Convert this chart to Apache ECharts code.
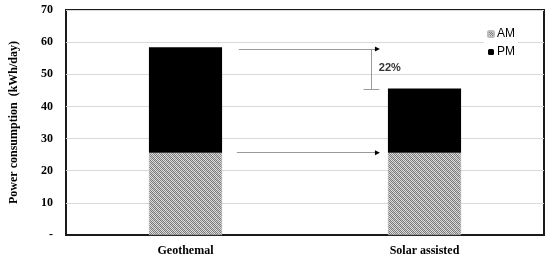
<!DOCTYPE html>
<html><head><meta charset="utf-8">
<script src="https://cdn.jsdelivr.net/npm/echarts@6/dist/echarts.min.js"></script>
<style>html,body{margin:0;padding:0;background:#fff}#c{width:550px;height:259px}</style>
</head><body><div id="c"></div>
<script>
var categories = ['Geothemal', 'Solar assisted'];
var amValues = [25.6, 25.6];
var pmValues = [32.8, 20.0];
var seriesNames = ['AM', 'PM'];
var yTicks = [0, 10, 20, 30, 40, 50, 60, 70];
var reductionLabel = '22%';
var upperArrowValue = 57.9;
var lowerArrowValue = 25.6;
var bracketBottomValue = 45.3;

function makeHatch() {
  var c = document.createElement('canvas');
  c.width = 6; c.height = 6;
  var ctx = c.getContext('2d');
  for (var y = 0; y < 6; y++) {
    for (var x = 0; x < 6; x++) {
      var dark = (x + y) % 2 === 0;
      var band = ((x - y + 12) % 6) < 3;
      var col;
      if (dark) col = band ? '#787878' : '#8c8c8c';
      else col = band ? '#cdcdcd' : '#dedede';
      ctx.fillStyle = col;
      ctx.fillRect(x, y, 1, 1);
    }
  }
  return c;
}
var hatch = { image: makeHatch(), repeat: 'repeat' };

var chart = echarts.init(document.getElementById('c'), null, { renderer: 'canvas' });
var serifBold = { fontFamily: 'Liberation Serif, Times New Roman, serif', fontWeight: 'bold', fontSize: 12, color: '#000' };

chart.setOption({
  animation: false,
  grid: { left: 62, right: 6, top: 10, bottom: 24, show: true, borderColor: '#1a1a1a', borderWidth: 2, backgroundColor: 'transparent' },
  legend: {
    data: seriesNames, orient: 'vertical', left: 484, top: 26,
    itemWidth: 6, itemHeight: 6, itemGap: 6,
    backgroundColor: '#fff', padding: [2, 3, 2, 3],
    textStyle: { fontFamily: 'Liberation Sans, Arial, sans-serif', fontSize: 12, color: '#000', padding: [0, 0, 0, -2] }
  },
  xAxis: [
    { type: 'category', data: categories, axisTick: { show: false },
      axisLine: { lineStyle: { color: '#1a1a1a', width: 2 } },
      axisLabel: Object.assign({ margin: 10 }, serifBold) },
    { type: 'value', min: 0, max: 2, show: false }
  ],
  yAxis: {
    type: 'value', min: yTicks[0], max: yTicks[yTicks.length - 1], interval: 10,
    name: 'Power consumption  (kWh/day)', nameLocation: 'middle', nameGap: 46,
    nameTextStyle: serifBold,
    axisLine: { show: false }, axisTick: { show: false },
    splitLine: { lineStyle: { color: '#d9d9d9', width: 1 } },
    axisLabel: Object.assign({ margin: 13, formatter: function (v) { return v === 0 ? '-' : String(v); } }, serifBold)
  },
  series: [
    { name: seriesNames[0], type: 'bar', stack: 't', data: amValues, barWidth: '30.6%',
      itemStyle: { color: hatch, borderColor: '#bbb', borderWidth: 0.5 } },
    { name: seriesNames[1], type: 'bar', stack: 't', data: pmValues, barWidth: '30.6%',
      itemStyle: { color: '#000' } },
    { name: 'ann', type: 'line', xAxisIndex: 1, data: [], silent: true,
      markLine: {
        silent: true, animation: false, symbol: ['none', 'none'],
        lineStyle: { color: '#9a9a9a', width: 1, type: 'solid' },
        label: { show: false },
        data: [
          [{ coord: [0.723, upperArrowValue] }, { coord: [1.30, upperArrowValue] }],
          [{ coord: [0.715, lowerArrowValue] }, { coord: [1.30, lowerArrowValue] }],
          [{ coord: [1.279, upperArrowValue] }, { coord: [1.279, bracketBottomValue] }],
          [{ coord: [1.245, bracketBottomValue] }, { coord: [1.311, bracketBottomValue] }]
        ]
      },
      markPoint: {
        silent: true, animation: false,
        data: [
          { coord: [1.303, upperArrowValue], symbol: 'triangle', symbolSize: [5, 5], symbolRotate: -90,
            itemStyle: { color: '#000' }, label: { show: false } },
          { coord: [1.303, lowerArrowValue], symbol: 'triangle', symbolSize: [5, 5], symbolRotate: -90,
            itemStyle: { color: '#000' }, label: { show: false } },
          { coord: [1.309, 52.0], symbol: 'circle', symbolSize: 0, value: reductionLabel,
            label: { show: true, position: 'right', distance: 0, formatter: reductionLabel,
              fontFamily: 'Liberation Sans, Arial, sans-serif', fontWeight: 'bold', fontSize: 11, color: '#333' } }
        ]
      }
    }
  ]
});
</script></body></html>
